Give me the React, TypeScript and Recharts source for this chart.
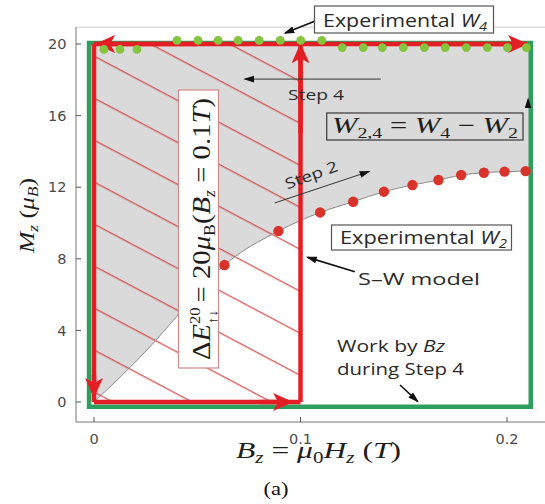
import React from 'react';
import { ComposedChart, Area, Line, Scatter, XAxis, YAxis, ReferenceLine, ReferenceArea } from 'recharts';

// Stoner–Wohlfarth model curve (Bz in T, Mz in μB)
const swField = [0, 0.028, 0.044, 0.0632, 0.0893, 0.1095, 0.1255, 0.1404, 0.1542, 0.1668, 0.1778, 0.1888, 0.1988, 0.209, 0.2115];
const swMoment = [0, 3.2, 5.3, 7.65, 9.55, 10.59, 11.19, 11.75, 12.12, 12.4, 12.68, 12.81, 12.87, 12.9, 12.92];

// Experimental W2 (red dots)
const w2Field = [0.0632, 0.0893, 0.1095, 0.1255, 0.1404, 0.1542, 0.1668, 0.1778, 0.1888, 0.1988, 0.209];
const w2Moment = [7.65, 9.55, 10.59, 11.19, 11.75, 12.12, 12.4, 12.68, 12.81, 12.87, 12.9];

// Experimental W4 (green dots)
const w4Field = [0.0048, 0.0126, 0.0208, 0.0402, 0.0504, 0.0601, 0.0698, 0.08, 0.0902, 0.1001, 0.1103, 0.1202, 0.1304, 0.1396, 0.1498, 0.16, 0.1701, 0.1803, 0.1905, 0.2002, 0.2094];
const w4Moment = [19.7, 19.7, 19.7, 20.2, 20.2, 20.2, 20.2, 20.2, 20.2, 20.2, 20.2, 19.8, 19.8, 19.8, 19.8, 19.8, 19.8, 19.8, 19.8, 19.8, 19.8];

const xTicks = [0, 0.1, 0.2];
const xTickLabels = ['0', '0.1', '0.2'];
const yTicks = [0, 4, 8, 12, 16, 20];
const yTickLabels = ['0', '4', '8', '12', '16', '20'];

const satMoment = 20;
const stepField = 0.1;
const endField = 0.2097;

const curveData = swField.map((x, i) => ({ x, sw: swMoment[i], band: [swMoment[i], satMoment] }));
const w2Data = w2Field.map((x, i) => ({ x, m: w2Moment[i] }));
const w4Data = w4Field.map((x, i) => ({ x, m: w4Moment[i] }));

const RED = '#e31e24';
const GREEN = '#2e9e5e';
const DARK = '#1e1e1e';
const TXT = '#2a2a2a';

const XTick = (p: any) => {
  const { x, y, payload } = p;
  const i = xTicks.indexOf(payload.value);
  return (
    <g>
      <line x1={x} x2={x} y1={y} y2={y - 5} stroke="#555" />
      <text x={x} y={y + 21.5} textAnchor="middle" fontFamily="DejaVu Sans" fontSize={14.5} fill="#4a4a4a">
        {i >= 0 ? xTickLabels[i] : payload.value}
      </text>
    </g>
  );
};

const YTick = (p: any) => {
  const { x, y, payload } = p;
  const i = yTicks.indexOf(payload.value);
  return (
    <g>
      <line x1={x} x2={x + 5} y1={y} y2={y} stroke="#555" />
      <text x={x - 9.5} y={y + 5.2} textAnchor="end" fontFamily="DejaVu Sans" fontSize={14.5} fill="#4a4a4a">
        {i >= 0 ? yTickLabels[i] : payload.value}
      </text>
    </g>
  );
};

const seg = (marker?: string, color: string = RED, width: number = 4.5) => (p: any) => (
  <line
    x1={p.x1}
    y1={p.y1}
    x2={p.x2}
    y2={p.y2}
    stroke={color}
    strokeWidth={width}
    strokeLinecap="butt"
    markerEnd={marker ? `url(#${marker})` : undefined}
  />
);

const redDot = (p: any) => <circle cx={p.cx} cy={p.cy} r={5.2} fill="#d9342b" />;
const greenDot = (p: any) => <circle cx={p.cx} cy={p.cy} r={4.4} fill="#86c440" />;

const openSans = 'Open Sans';
const serif = 'Liberation Serif';

export default function App() {
  return (
    <div style={{ position: 'absolute', left: 0, top: 0, width: 545, height: 504, overflow: 'hidden', background: '#fff' }}>
      <svg width={0} height={0} style={{ position: 'absolute', left: 0, top: 0 }}>
        <defs>
          <pattern id="hatchRed" patternUnits="userSpaceOnUse" width={20} height={37.1} patternTransform="rotate(27.92)">
            <line x1={-1} x2={21} y1={5.6} y2={5.6} stroke="#d23a3a" strokeWidth={1.1} />
          </pattern>
          <marker id="arRed" markerUnits="userSpaceOnUse" markerWidth={22} markerHeight={20} refX={15} refY={9} orient="auto">
            <path d="M0,0 L20,9 L0,18 L5,9 Z" fill={RED} />
          </marker>
          <marker id="arBlk" markerUnits="userSpaceOnUse" markerWidth={12} markerHeight={8} refX={9} refY={3.5} orient="auto">
            <path d="M0,0 L11,3.5 L0,7 Z" fill="#111" />
          </marker>
        </defs>
      </svg>
      <ComposedChart width={560} height={504} data={curveData} margin={{ top: 27, right: 12, bottom: 52, left: 0 }}>
        <XAxis
          dataKey="x"
          type="number"
          domain={[-0.00872, 0.21985]}
          allowDataOverflow
          ticks={xTicks}
          interval={0}
          tick={(p: any) => <XTick {...p} />}
          tickLine={false}
          tickSize={0}
          tickMargin={0}
          height={30}
          axisLine={{ stroke: '#777' }}
        />
        <YAxis
          type="number"
          domain={[-1.117, 20.95]}
          allowDataOverflow
          ticks={yTicks}
          interval={0}
          tick={(p: any) => <YTick {...p} />}
          tickLine={false}
          tickSize={0}
          tickMargin={0}
          width={76}
          axisLine={{ stroke: '#777' }}
        />
        <ReferenceLine y={20.94} stroke="#cfcfcf" strokeWidth={1} />
        <Area dataKey="band" type="monotone" fill="#dadada" fillOpacity={1} stroke="none" isAnimationActive={false} />
        <ReferenceArea x1={0} x2={stepField} y1={0} y2={satMoment} fill="url(#hatchRed)" fillOpacity={1} stroke="none" ifOverflow="visible" />
        <Line dataKey="sw" type="monotone" stroke="#8a8a8a" strokeWidth={1} dot={false} isAnimationActive={false} />
        <Scatter data={w2Data} dataKey="m" shape={redDot} isAnimationActive={false} />
        <Scatter data={w4Data} dataKey="m" shape={greenDot} isAnimationActive={false} />
        <ReferenceArea x1={-0.0024} x2={0.2115} y1={-0.26} y2={20.06} fill="none" stroke={GREEN} strokeWidth={4.5} ifOverflow="visible" />

        {/* red cycle */}
        <ReferenceLine segment={[{ x: 0, y: satMoment }, { x: 0, y: 0 }]} shape={seg()} ifOverflow="visible" />
        <ReferenceLine segment={[{ x: 0, y: 0 }, { x: stepField, y: 0 }]} shape={seg()} ifOverflow="visible" />
        <ReferenceLine segment={[{ x: stepField, y: 0 }, { x: stepField, y: satMoment }]} shape={seg()} ifOverflow="visible" />
        <ReferenceLine segment={[{ x: 0, y: satMoment }, { x: endField, y: satMoment }]} shape={seg()} ifOverflow="visible" />
        <ReferenceLine segment={[{ x: 0, y: 1.5 }, { x: 0, y: 0.5 }]} shape={seg('arRed')} ifOverflow="visible" />
        <ReferenceLine segment={[{ x: 0.08, y: 0 }, { x: 0.094, y: 0 }]} shape={seg('arRed')} ifOverflow="visible" />
        <ReferenceLine segment={[{ x: stepField, y: 15 }, { x: stepField, y: 19.76 }]} shape={seg('arRed')} ifOverflow="visible" />
        <ReferenceLine segment={[{ x: 0.05, y: satMoment }, { x: 0.003, y: satMoment }]} shape={seg('arRed')} ifOverflow="visible" />
        <ReferenceLine segment={[{ x: 0.16, y: satMoment }, { x: 0.2078, y: satMoment }]} shape={seg('arRed')} ifOverflow="visible" />

        {/* annotation arrows */}
        <ReferenceLine segment={[{ x: 0.1389, y: 18.04 }, { x: 0.0732, y: 18.04 }]} shape={seg('arBlk', '#333', 1)} ifOverflow="visible" />
        <ReferenceLine segment={[{ x: 0.0875, y: 11.12 }, { x: 0.133, y: 12.87 }]} shape={seg('arBlk', '#333', 1)} ifOverflow="visible" />
        <ReferenceLine segment={[{ x: 0.1071, y: 21.28 }, { x: 0.0926, y: 20.61 }]} shape={seg('arBlk', '#111', 1.6)} ifOverflow="visible" />
        <ReferenceLine segment={[{ x: 0.1263, y: 7.28 }, { x: 0.1035, y: 8.08 }]} shape={seg('arBlk', '#111', 1.6)} ifOverflow="visible" />
        <ReferenceLine segment={[{ x: 0.1482, y: 0.95 }, { x: 0.1566, y: 0.05 }]} shape={seg('arBlk', '#111', 1.6)} ifOverflow="visible" />
        <ReferenceLine segment={[{ x: 0.2102, y: 16.55 }, { x: 0.2102, y: 16.9 }]} shape={seg('arBlk', '#111', 0.8)} ifOverflow="visible" />
      </ComposedChart>

      <svg width={545} height={504} style={{ position: 'absolute', left: 0, top: 0, pointerEvents: 'none' }}>
        {/* Experimental W4 */}
        <rect x={314.5} y={6} width={179} height={27} fill="#fff" stroke="#555" strokeWidth={1.2} />
        <text x={323} y={27} fontFamily={openSans} fontSize={17.5} fill={TXT} textLength={164} lengthAdjust="spacingAndGlyphs">
          Experimental <tspan fontStyle="italic">W</tspan>
          <tspan fontStyle="italic" fontSize={12} dy={4}>4</tspan>
        </text>

        {/* Step 4 */}
        <text x={288} y={100} fontFamily={openSans} fontSize={15} fill={TXT} textLength={56} lengthAdjust="spacingAndGlyphs">
          Step 4
        </text>

        {/* W_{2,4} = W_4 − W_2 */}
        <rect x={326.7} y={113} width={196.3} height={27} fill="none" stroke="#444" strokeWidth={1.3} />
        <text x={332} y={133} fontFamily={serif} fontSize={23} fill={DARK} textLength={186} lengthAdjust="spacingAndGlyphs">
          <tspan fontStyle="italic">W</tspan>
          <tspan fontSize={15} dy={5}>2,4</tspan>
          <tspan dy={-5}> = </tspan>
          <tspan fontStyle="italic">W</tspan>
          <tspan fontSize={15} dy={5}>4</tspan>
          <tspan dy={-5}> − </tspan>
          <tspan fontStyle="italic">W</tspan>
          <tspan fontSize={15} dy={5}>2</tspan>
        </text>

        {/* Step 2 */}
        <text transform="translate(313,180) rotate(-20)" textAnchor="middle" fontFamily={openSans} fontSize={15} fill={TXT} textLength={55} lengthAdjust="spacingAndGlyphs">
          Step 2
        </text>

        {/* Experimental W2 */}
        <rect x={331.5} y={225} width={180} height={25} fill="none" stroke="#555" strokeWidth={1.2} />
        <text x={340} y={244} fontFamily={openSans} fontSize={17.5} fill={TXT} textLength={167} lengthAdjust="spacingAndGlyphs">
          Experimental <tspan fontStyle="italic">W</tspan>
          <tspan fontStyle="italic" fontSize={12} dy={4}>2</tspan>
        </text>

        {/* S–W model */}
        <text x={358} y={285} fontFamily={openSans} fontSize={16} fill={TXT} textLength={122} lengthAdjust="spacingAndGlyphs">
          S–W model
        </text>

        {/* Work by Bz during Step 4 */}
        <text x={337} y={352} fontFamily={openSans} fontSize={15.5} fill={TXT} textLength={108} lengthAdjust="spacingAndGlyphs">
          Work by <tspan fontStyle="italic">Bz</tspan>
        </text>
        <text x={337} y={375} fontFamily={openSans} fontSize={15.5} fill={TXT} textLength={127} lengthAdjust="spacingAndGlyphs">
          during Step 4
        </text>

        {/* ΔE box */}
        <rect x={178.5} y={90} width={40} height={278} fill="#fff" stroke="#cf8a8a" strokeWidth={1.2} />
        <text transform="translate(210,360) rotate(-90)" fontFamily={serif} fontSize={26} fill={DARK} textLength={262} lengthAdjust="spacingAndGlyphs">
          <tspan>Δ</tspan>
          <tspan fontStyle="italic">E</tspan>
          <tspan fontSize={15} dy={-10}>20</tspan>
          <tspan fontSize={13} dx={-15} dy={17}>↑↓</tspan>
          <tspan dy={-7}> = 20</tspan>
          <tspan fontStyle="italic">μ</tspan>
          <tspan fontSize={16} dy={5}>B</tspan>
          <tspan dy={-5}>(</tspan>
          <tspan fontStyle="italic">B</tspan>
          <tspan fontStyle="italic" fontSize={16} dy={5}>z</tspan>
          <tspan dy={-5}> = 0.1</tspan>
          <tspan fontStyle="italic">T</tspan>
          <tspan>)</tspan>
        </text>

        {/* y-axis label */}
        <text transform="translate(33.5,253) rotate(-90)" fontFamily={serif} fontSize={22} fill={DARK} textLength={75} lengthAdjust="spacingAndGlyphs">
          <tspan fontStyle="italic">M</tspan>
          <tspan fontStyle="italic" fontSize={15} dy={4}>z</tspan>
          <tspan dy={-4}> (</tspan>
          <tspan fontStyle="italic">μ</tspan>
          <tspan fontStyle="italic" fontSize={15} dy={4}>B</tspan>
          <tspan dy={-4}>)</tspan>
        </text>

        {/* x-axis label */}
        <text x={236} y={458} fontFamily={serif} fontSize={24} fill={DARK} textLength={165} lengthAdjust="spacingAndGlyphs">
          <tspan fontStyle="italic">B</tspan>
          <tspan fontStyle="italic" fontSize={16} dy={5}>z</tspan>
          <tspan dy={-5}> = </tspan>
          <tspan fontStyle="italic">μ</tspan>
          <tspan fontSize={16} dy={5}>0</tspan>
          <tspan fontStyle="italic" dy={-5}>H</tspan>
          <tspan fontStyle="italic" fontSize={16} dy={5}>z</tspan>
          <tspan dy={-5}> (</tspan>
          <tspan fontStyle="italic">T</tspan>
          <tspan>)</tspan>
        </text>

        {/* caption */}
        <text x={276} y={495} textAnchor="middle" fontFamily={serif} fontSize={18} fill="#111" textLength={25} lengthAdjust="spacingAndGlyphs">
          (a)
        </text>
      </svg>
    </div>
  );
}
